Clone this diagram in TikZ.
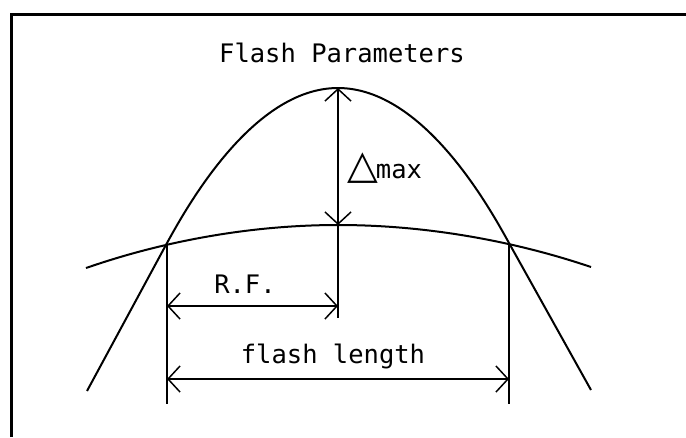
\documentclass[tikz,border=0pt]{standalone}
\usepackage{fontspec}
\setmonofont{DejaVu Sans Mono}
\newfontfamily\symfont{DejaVu Sans}
\usetikzlibrary{arrows.meta}
\tikzset{
  curveline/.style={line width=2pt, line join=round},
  guide/.style={line width=1.8pt},
  dimarrow/.style={line width=1.8pt, {Straight Barb[length=12pt,width=26pt,line width=1.5pt]}-{Straight Barb[length=12pt,width=26pt,line width=1.5pt]}},
  lbl/.style={font=\ttfamily\fontsize{25.5pt}{25.5pt}\selectfont, inner sep=0pt, anchor=base},
  frameline/.style={line width=3pt}
}
\begin{document}
\begin{tikzpicture}[x=1pt,y=-1pt]
\useasboundingbox (0,0) rectangle (686,437);
\fill[white] (0,0) rectangle (686,437);
% frame
\coordinate (fTL) at (11,14);
\coordinate (fBL) at (11,437);
\coordinate (fTR) at (686,14);
\draw[frameline] (fBL) -- (fTL) -- (fTR);
% key points
\coordinate (apex) at (338,88);
\coordinate (mid) at (338,225);
\coordinate (L) at (167,243);
\coordinate (R) at (509,243);
\coordinate (Lend) at (87,391);
\coordinate (Rend) at (591,390);
\coordinate (fL) at (86,268);
\coordinate (fR) at (591,267);
% tall curve
\draw[curveline] (Lend) -- (L) parabola bend (apex) (R) -- (Rend);
% flat curve
\draw[curveline] (fL) parabola bend (mid) (fR);
% vertical guides
\coordinate (cBot) at (338,318);
\coordinate (LBot) at (167,404);
\coordinate (RBot) at (509,404);
\draw[guide] (apex) -- (cBot);
\draw[guide] (L) -- (LBot);
\draw[guide] (R) -- (RBot);
% dimension arrows
\coordinate (rfL) at (167,306);
\coordinate (rfR) at (338,306);
\coordinate (flL) at (167,379);
\coordinate (flR) at (509,379);
\draw[dimarrow] (mid) -- (apex);
\draw[dimarrow] (rfL) -- (rfR);
\draw[dimarrow] (flL) -- (flR);
% labels
\node[lbl] (title) at (342,62) {Flash Parameters};
\node[lbl] (rf) at (245,293) {R.F.};
\node[lbl] (fl) at (333,363) {flash length};
\node[lbl, anchor=base west] (dmax) at (347,178) {{\symfont\fontsize{40pt}{40pt}\selectfont △}\kern-2pt max};
\end{tikzpicture}
\end{document}
